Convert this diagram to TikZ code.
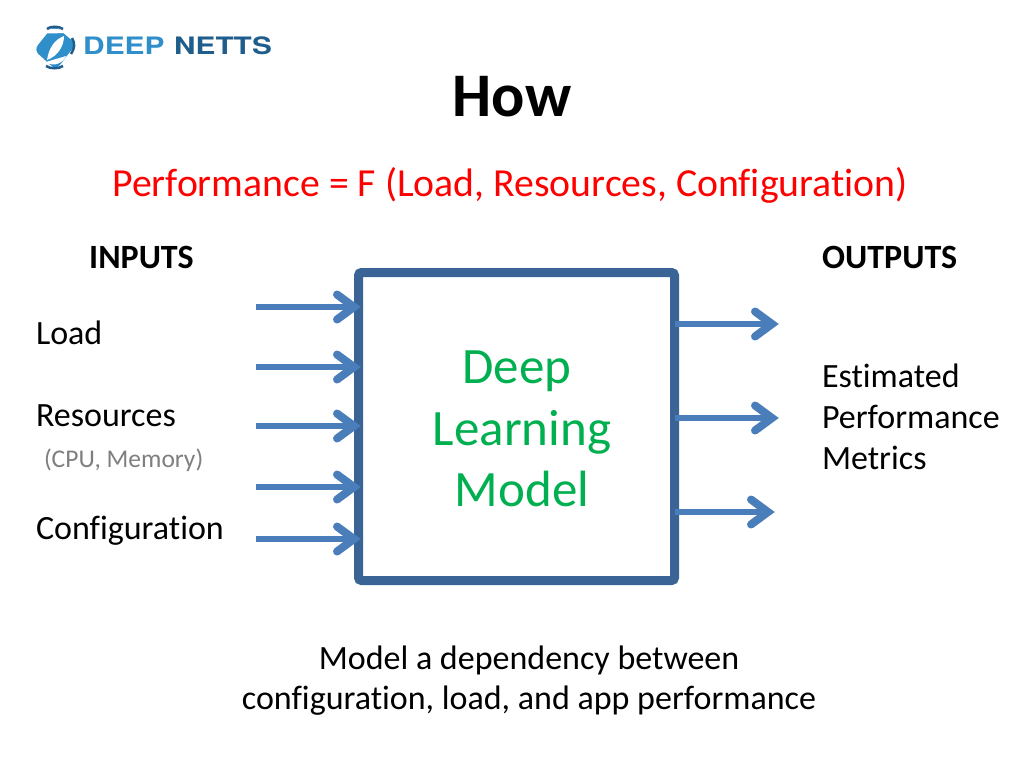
\documentclass[tikz,border=0pt]{standalone}
\usepackage{fontspec}
\setmainfont{Carlito}[Ligatures=NoCommon]
\newfontfamily\logofont{TeX Gyre Heros}
\definecolor{boxblue}{HTML}{3A6496}
\definecolor{arrowblue}{HTML}{4A7EBB}
\definecolor{modelgreen}{HTML}{00B050}
\definecolor{subgrey}{HTML}{7F7F7F}
\definecolor{logoblue}{HTML}{2F8FCB}
\definecolor{logodark}{HTML}{1F5E8C}
\tikzset{
  x=1pt,y=-1pt,
  body/.style={font=\fontsize{34}{34}\selectfont,anchor=base west,inner sep=0pt,outer sep=0pt,text=black},
  bodyc/.style={body,anchor=base},
  head/.style={font=\fontsize{34}{34}\selectfont\bfseries,anchor=base west,inner sep=0pt},
  modeltxt/.style={font=\fontsize{51}{51}\selectfont,text=modelgreen,anchor=base,inner sep=0pt},
  modelbox/.style={draw=boxblue,line width=9pt,rounded corners=3pt,fill=white,inner sep=0pt,outer sep=0pt,minimum width=316pt,minimum height=308pt},
  flow/.style={draw=arrowblue,line width=6.5pt},
  barb/.style={draw=arrowblue,line width=8pt,line cap=round,line join=miter,miter limit=10},
  logotxt/.style={font=\logofont\bfseries\fontsize{24}{24}\selectfont,anchor=base west,inner sep=0pt}
}
\newcommand{\flowarrow}[2]{%
  \draw[flow] (#1) -- ([xshift=-7pt]#2);
  \draw[barb,shift={(#2)}] (-24,-12.5) -- (-7,0) -- (-24,12.5);
}
\begin{document}
\begin{tikzpicture}
\useasboundingbox (0,0) rectangle (1024,768);
\fill[white] (0,0) rectangle (1024,768);
% logo
\fill[logoblue,rounded corners=6pt] (54,25) -- (76,44) -- (56,70) -- (34,50) -- cycle;
\fill[white] (47,60) .. controls (49,48) and (54,40) .. (64,36) .. controls (64,46) and (58,56) .. (47,60) -- cycle;
\fill[white] (44,33) .. controls (50,27) and (60,28) .. (66,33) .. controls (58,33) and (50,34) .. (44,33) -- cycle;
\fill[white] (46,62) .. controls (52,60) and (60,58) .. (66,56) .. controls (64,62) and (54,68) .. (46,62) -- cycle;
\draw[logodark,line width=2.5pt] (47,29) .. controls (50,26) and (59,26) .. (63,29);
\draw[logodark,line width=2.5pt] (72,38) .. controls (75,43) and (75,48) .. (71,54);
\draw[logodark,line width=2.5pt] (46,66) .. controls (50,69) and (59,69) .. (63,66);
\node[logotxt,text=logoblue] (logoa) at (83,55) {\scalebox{1.245}[1]{DEEP}};
\node[logotxt,text=logodark] (logob) at (174,55) {\scalebox{1.24}[1]{NETTS}};
% titles
\node[font=\fontsize{62}{62}\selectfont\bfseries,anchor=base,inner sep=0pt] (title) at (512,116) {How};
\node[font=\fontsize{39.75}{40}\selectfont,text=red,anchor=base,inner sep=0pt] (formula) at (510,196) {Performance = F (Load, Resources, Configuration)};
\node[head] (inputs) at (89,268) {INPUTS};
\node[head] (outputs) at (822,268) {OUTPUTS};
% box
\node[modelbox] (model) at (516.5,426.5) {};
\node[modeltxt] (m1) at (517,383) {Deep};
\node[modeltxt] (m2) at (522,445) {Learning};
\node[modeltxt] (m3) at (522,506) {Model};
% labels
\node[body] (load) at (36,344.5) {Load};
\node[body] (res) at (36,426.5) {Resources};
\node[body,font=\fontsize{25.5}{26}\selectfont,text=subgrey] (cpu) at (44,467.5) {(CPU, Memory)};
\node[body] (conf) at (36,539.5) {Configuration};
\node[body] (est) at (822,387) {Estimated};
\node[body] (perf) at (822,428) {Performance};
\node[body] (metr) at (822,469) {Metrics};
\node[bodyc] (b1) at (529,669) {Model a dependency between};
\node[bodyc] (b2) at (529,709) {configuration, load, and app performance};
% arrows
\foreach \n/\yy in {a/307,b/367,c/426,d/487,e/539}{
  \coordinate (in\n) at (256,\yy);
  \coordinate (tip\n) at (361,\yy);
  \flowarrow{in\n}{tip\n}
}
\coordinate (outa) at (779,324);
\coordinate (outb) at (779,418);
\coordinate (outc) at (775,512);
\coordinate (srca) at (model.east |- outa);
\coordinate (srcb) at (model.east |- outb);
\coordinate (srcc) at (model.east |- outc);
\flowarrow{srca}{outa}
\flowarrow{srcb}{outb}
\flowarrow{srcc}{outc}
\end{tikzpicture}
\end{document}
